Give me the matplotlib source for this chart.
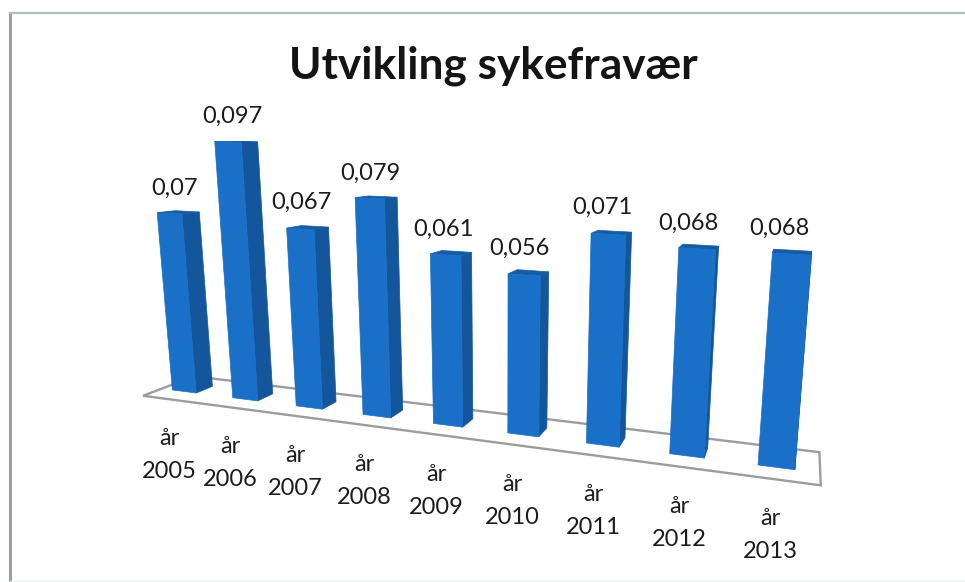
import matplotlib
matplotlib.use('Agg')
import matplotlib.pyplot as plt
from matplotlib.patches import Polygon
import numpy as np

plt.rcParams['font.family'] = ['Lato', 'DejaVu Sans']

tittel = 'Utvikling sykefravær'
aar = ['år\n2005', 'år\n2006', 'år\n2007', 'år\n2008', 'år\n2009',
       'år\n2010', 'år\n2011', 'år\n2012', 'år\n2013']
verdier = [0.07, 0.097, 0.067, 0.079, 0.061, 0.056, 0.071, 0.068, 0.068]
verdi_tekst = ['0,07', '0,097', '0,067', '0,079', '0,061', '0,056', '0,071', '0,068', '0,068']

# hvor tekstene star i bildet (piksler)
aar_x = [169, 230, 295, 364, 436, 512, 593, 679, 770]
aar_y = [455, 463, 472, 481, 491, 501, 511, 523, 535]
verdi_x = [175, 232, 301, 370, 443, 519, 602, 688, 779]
verdi_y = [188, 116, 202, 173, 229, 248, 207, 223, 228]

# kamera for det skra 3D-bildet: (soyle, dybde, verdi*100) -> piksler
P = np.array([[5.49470587e+01, 2.19466402e+01, -3.17518418e+00, 1.84209864e+02],
              [-1.99899771e+00, 3.86671133e+00, -2.68013602e+01, 3.91484217e+02],
              [-2.45634712e-02, 2.72003487e-02, -6.32028410e-03, 1.00000000e+00]])


def proj(x, d, z):
    h = P @ np.array([x, d, z, 1.0])
    return h[0] / h[2], h[1] / h[2]


fig = plt.figure(figsize=(9.65, 5.82), dpi=100)
ax = fig.add_axes([0, 0, 1, 1])
ax.set_xlim(0, 965)
ax.set_ylim(582, 0)
ax.axis('off')

# ramme rundt diagrammet
ax.plot([10, 10], [13, 582], color='#999f9f', lw=2.2)
ax.plot([10, 965], [13, 13], color='#a9c2bf', lw=1.6)
ax.plot([10, 965], [581, 581], color='#e4e8e8', lw=1)

# gulvet
gulv = [proj(-0.38, -1.05, 0), proj(8.47, -1.05, 0), proj(8.47, 1.95, 0), proj(-0.38, 1.95, 0)]
ax.add_patch(Polygon(gulv, closed=True, fill=False, edgecolor='#9a9c9e', lw=1.7, zorder=1))

b = 0.2
for i, v in enumerate(verdier):
    z = v * 100
    front = [proj(i - b, 0, 0), proj(i + b, 0, 0), proj(i + b, 0, z), proj(i - b, 0, z)]
    side = [proj(i + b, 0, 0), proj(i + b, 1, 0), proj(i + b, 1, z), proj(i + b, 0, z)]
    topp = [proj(i - b, 0, z), proj(i + b, 0, z), proj(i + b, 1, z), proj(i - b, 1, z)]
    ax.add_patch(Polygon(side, color='#14569c', lw=0.5, zorder=2))
    ax.add_patch(Polygon(topp, color='#155ca6', lw=0.5, zorder=2))
    ax.add_patch(Polygon(front, color='#1a6fc6', lw=0.5, zorder=3))

ax.text(493, 66, tittel, fontsize=31.8, fontweight='bold', color='#141414', ha='center', va='center')
for x, y, t in zip(verdi_x, verdi_y, verdi_tekst):
    ax.text(x, y, t, fontsize=17, color='#1c1c1c', ha='center', va='center')
for x, y, t in zip(aar_x, aar_y, aar):
    ax.text(x, y, t, fontsize=17, color='#1c1c1c', ha='center', va='center', linespacing=1.67)

fig.savefig('out.png', dpi=100)
